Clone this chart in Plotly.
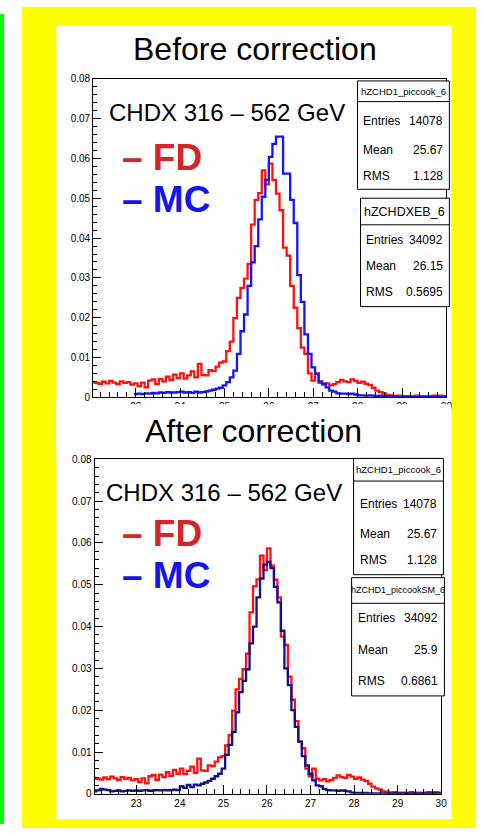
import numpy as np
import plotly.graph_objects as go

# ---------------- data ----------------
bin_lo, bin_hi, n_bins = 22.0, 30.0, 100
edges = np.linspace(bin_lo, bin_hi, n_bins + 1)

fd_hist = [
    0.0038, 0.0036, 0.0034, 0.0039, 0.0035, 0.0041, 0.0037, 0.0033, 0.0040, 0.0036,
    0.0038, 0.0032, 0.0035, 0.0028, 0.0037, 0.0025, 0.0042, 0.0045, 0.0033, 0.0046,
    0.0040, 0.0052, 0.0043, 0.0057, 0.0048, 0.0060, 0.0047, 0.0055, 0.0065, 0.0050,
    0.0084, 0.0056, 0.0055, 0.0068, 0.0066, 0.0077, 0.0087, 0.0090, 0.0116, 0.0140,
    0.0199, 0.0250, 0.0275, 0.0298, 0.0335, 0.0434, 0.0496, 0.0513, 0.0570, 0.0535,
    0.0587, 0.0546, 0.0512, 0.0470, 0.0376, 0.0356, 0.0280, 0.0225, 0.0174, 0.0125,
    0.0109, 0.0060, 0.0042, 0.0060, 0.0036, 0.0032, 0.0035, 0.0030, 0.0033, 0.0038,
    0.0044, 0.0040, 0.0038, 0.0045, 0.0041, 0.0036, 0.0039, 0.0034, 0.0031, 0.0024,
    0.0017, 0.0013, 0.0010, 0.0006, 0.0005, 0.0003, 0.0004, 0.0002, 0.0003, 0.0003,
    0.0002, 0.0004, 0.0002, 0.0003, 0.0002, 0.0003, 0.0004, 0.0002, 0.0004, 0.0003,
]

mc_before = [
    None, None, None, None, None, None, None, None, None, None,
    None, None, 0.0008, 0.0009, 0.0008, 0.0010, 0.0009, 0.0011, 0.0010, 0.0012,
    0.0011, 0.0013, 0.0012, 0.0012, 0.0013, 0.0014, 0.0012, 0.0013, 0.0011, 0.0014,
    0.0012, 0.0013, 0.0015, 0.0017, 0.0019, 0.0022, 0.0024, 0.0030, 0.0038, 0.0050,
    0.0067, 0.0109, 0.0166, 0.0208, 0.0280, 0.0339, 0.0380, 0.0447, 0.0504, 0.0546,
    0.0604, 0.0637, 0.0655, 0.0655, 0.0562, 0.0562, 0.0496, 0.0438, 0.0307, 0.0240,
    0.0158, 0.0109, 0.0075, 0.0059, 0.0040, 0.0034, 0.0025, 0.0017, 0.0014, 0.0010,
    0.0009, 0.0009, 0.0008, 0.0009, 0.0007, 0.0005, 0.0005, 0.0004, 0.0005, 0.0004,
    0.0003, 0.0004, 0.0003, 0.0002, 0.0003, 0.0002, 0.0001, 0.0001, 0.0001, 0.0001,
    0.0001, 0.0001, 0.0001, 0.0001, 0.0001, 0.0001, 0.0001, 0.0001, 0.0001, 0.0001,
]

mc_after = [
    0.0006, 0.0008, 0.0012, 0.0010, 0.0009, 0.0006, 0.0007, 0.0008, 0.0006, 0.0007,
    0.0008, 0.0007, 0.0008, 0.0007, 0.0008, 0.0009, 0.0007, 0.0008, 0.0009, 0.0008,
    0.0009, 0.0008, 0.0009, 0.0010, 0.0009, 0.0018, 0.0014, 0.0021, 0.0016, 0.0022,
    0.0020, 0.0024, 0.0027, 0.0031, 0.0036, 0.0042, 0.0048, 0.0060, 0.0093, 0.0117,
    0.0148, 0.0195, 0.0243, 0.0270, 0.0298, 0.0360, 0.0400, 0.0470, 0.0515, 0.0548,
    0.0555, 0.0540, 0.0495, 0.0458, 0.0390, 0.0300, 0.0260, 0.0200, 0.0160, 0.0125,
    0.0090, 0.0068, 0.0048, 0.0032, 0.0020, 0.0018, 0.0012, 0.0009, 0.0008, 0.0008,
    0.0007, 0.0008, 0.0007, 0.0006, 0.0003, 0.0002, 0.0002, 0.0002, 0.0002, 0.0001,
    0.0001, 0.0001, 0.0001, 0.0001, 0.0001, 0.0001, 0.0001, 0.0001, 0.0001, 0.0001,
    0.0001, 0.0001, 0.0001, 0.0001, 0.0001, 0.0001, 0.0001, 0.0001, 0.0001, 0.0001,
]

panel_titles = ["Before correction", "After correction"]
range_label = "CHDX 316 \u2013 562 GeV"
legend_labels = ["\u2013 FD", "\u2013 MC"]

stat_names = ["hZCHD1_piccook_6", "hZCHDXEB_6", "hZCHD1_piccook_6", "hZCHD1_piccookSM_6"]
stat_entries = ["14078", "34092", "14078", "34092"]
stat_means = ["25.67", "26.15", "25.67", "25.9"]
stat_rms = ["1.128", "0.5695", "1.128", "0.6861"]

x_ticks = [23, 24, 25, 26, 27, 28, 29, 30]
y_ticks = [0, 0.01, 0.02, 0.03, 0.04, 0.05, 0.06, 0.07, 0.08]
y_tick_text = ["0", "0.01", "0.02", "0.03", "0.04", "0.05", "0.06", "0.07", "0.08"]

# ---------------- figure ----------------
W, H = 485, 834
FONT = "Liberation Sans, Arial, Helvetica, sans-serif"


def fx(x):
    return x / W


def fy(y):
    return 1 - y / H


def steps(vals):
    xs = list(edges)
    ys = list(vals) + [vals[-1]]
    return xs, ys


fig = go.Figure()

RED = "#ff1010"
BLUE = "#1414ff"
NAVY = "#10108c"

for xa, ya, mc, mccol in [("x", "y", mc_before, BLUE), ("x2", "y2", mc_after, NAVY)]:
    xs, ys = steps(fd_hist)
    fig.add_trace(go.Scatter(x=xs, y=ys, mode="lines", line=dict(color=RED, width=2.3, shape="hv"),
                             xaxis=xa, yaxis=ya, showlegend=False, hoverinfo="skip"))
    xs, ys = steps(mc)
    fig.add_trace(go.Scatter(x=xs, y=ys, mode="lines", line=dict(color=mccol, width=2.3, shape="hv"),
                             xaxis=xa, yaxis=ya, showlegend=False, hoverinfo="skip",
                             connectgaps=False))

# frame pixel geometry
top_frame = dict(x0=94.3, x1=452.0, y0=74.0, y1=397.0)
bot_frame = dict(x0=95.7, x1=446.7, y0=460.0, y1=799.3)


def xaxis(frame, anchor):
    return dict(domain=[fx(frame["x0"]), fx(frame["x1"])], range=[22.04, 30.0], anchor=anchor,
                showline=True, linecolor="black", linewidth=1, mirror=True,
                ticks="inside", ticklen=9, tickwidth=1, tickcolor="black",
                tickvals=x_ticks, ticktext=[str(t) for t in x_ticks],
                minor=dict(ticks="inside", ticklen=5, tickwidth=1, tickcolor="black", dtick=0.2, tick0=0),
                showgrid=False, zeroline=False, fixedrange=True,
                tickfont=dict(family=FONT, size=10, color="black"))


def yaxis(frame, anchor):
    return dict(domain=[fy(frame["y1"]), fy(frame["y0"])], range=[0, 0.08], anchor=anchor,
                showline=True, linecolor="black", linewidth=1, mirror=True,
                ticks="inside", ticklen=8, tickwidth=1, tickcolor="black",
                tickvals=y_ticks, ticktext=y_tick_text,
                minor=dict(ticks="inside", ticklen=4, tickwidth=1, tickcolor="black", dtick=0.002, tick0=0),
                showgrid=False, zeroline=False, fixedrange=True,
                tickfont=dict(family=FONT, size=10, color="black"))


shapes = [
    dict(type="rect", xref="paper", yref="paper", x0=fx(0), x1=fx(4), y0=fy(830), y1=fy(8),
         fillcolor="#00ff00", line=dict(width=0), layer="below"),
    dict(type="rect", xref="paper", yref="paper", x0=fx(22), x1=fx(482), y0=fy(834), y1=fy(1),
         fillcolor="#ffff00", line=dict(width=0), layer="below"),
    dict(type="rect", xref="paper", yref="paper", x0=fx(57), x1=fx(457), y0=fy(825), y1=fy(20),
         fillcolor="white", line=dict(width=0), layer="below"),
    # white title box of the lower panel covering the upper axis labels
    dict(type="rect", xref="paper", yref="paper", x0=fx(57), x1=fx(457), y0=fy(452), y1=fy(404),
         fillcolor="white", line=dict(width=0), layer="above"),
]

annotations = []


def text(x, y, s, size, color="black", bold=False, xanchor="left", yanchor="middle"):
    annotations.append(dict(x=fx(x), y=fy(y), xref="paper", yref="paper", text=("<b>%s</b>" % s) if bold else s,
                            showarrow=False, xanchor=xanchor, yanchor=yanchor,
                            font=dict(family=FONT, size=size, color=color)))


text(258.5, 44, panel_titles[0], 32, xanchor="center")
text(256.5, 431, panel_titles[1], 32, xanchor="center")
text(108, 108.5, range_label, 24)
text(105, 493.5, range_label, 24)
text(121, 154, legend_labels[0], 37, color="#d42528", bold=True)
text(121, 196, legend_labels[1], 37, color="#1414ee", bold=True)
text(121, 535.5, legend_labels[0], 37, color="#d42528", bold=True)
text(121, 577.5, legend_labels[1], 37, color="#1414ee", bold=True)

# stats boxes: (x0, x1, top, divider, bottom, title_y, row_ys, title_size)
boxes = [
    (362, 455, 76, 97, 186, 86.5, (117, 146, 172), 9.5),
    (365, 455, 195, 222, 305, 209, (237, 264, 290), 12.5),
    (358, 449, 459, 482, 577, 470, (505, 536, 562), 9.5),
    (356, 450, 580, 606, 700, 593, (621, 653, 685), 9),
]
for i, (x0, x1, top, div, bot, ty, rows, tsize) in enumerate(boxes):
    shapes.append(dict(type="rect", xref="paper", yref="paper", x0=fx(x0), x1=fx(x1), y0=fy(bot), y1=fy(top),
                       fillcolor="white", line=dict(color="black", width=1), layer="above"))
    shapes.append(dict(type="line", xref="paper", yref="paper", x0=fx(x0), x1=fx(x1), y0=fy(div), y1=fy(div),
                       line=dict(color="black", width=1), layer="above"))
    text((x0 + x1) / 2, ty, stat_names[i], tsize, xanchor="center")
    labels = ["Entries", "Mean", "RMS"]
    vals = [stat_entries[i], stat_means[i], stat_rms[i]]
    for lab, val, ry in zip(labels, vals, rows):
        text(x0 + 4, ry, lab, 12)
        text(x1 - 4, ry, val, 12, xanchor="right")

fig.update_layout(
    width=W, height=H, margin=dict(l=0, r=0, t=0, b=0), autosize=False,
    paper_bgcolor="white", plot_bgcolor="white",
    xaxis=xaxis(top_frame, "y"), yaxis=yaxis(top_frame, "x"),
    xaxis2=xaxis(bot_frame, "y2"), yaxis2=yaxis(bot_frame, "x2"),
    shapes=shapes, annotations=annotations, showlegend=False,
)

fig.write_html("out.html", config={"displayModeBar": False})
